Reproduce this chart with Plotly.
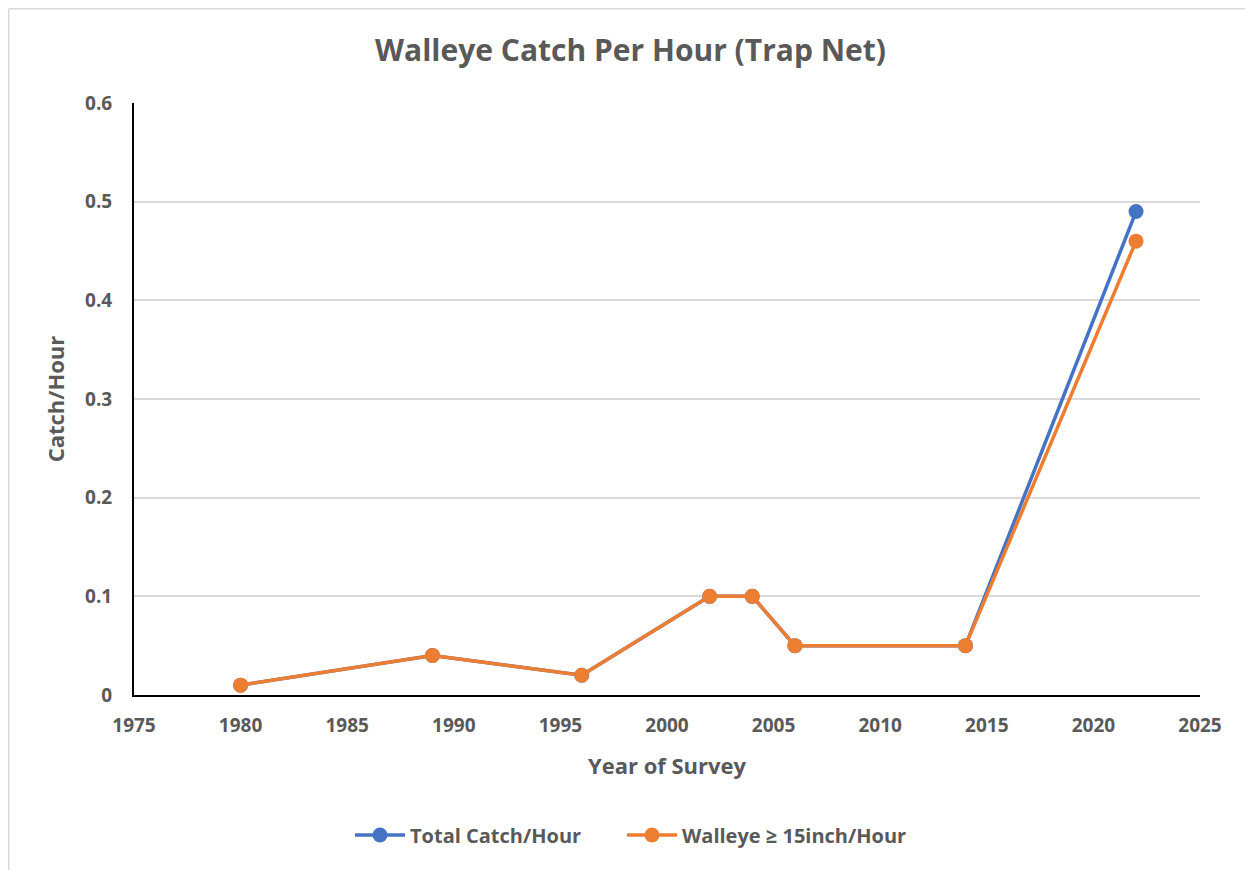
import plotly.graph_objects as go

years = [1980, 1989, 1996, 2002, 2004, 2006, 2014, 2022]
total_catch = [0.01, 0.04, 0.02, 0.10, 0.10, 0.05, 0.05, 0.49]
walleye_15 = [0.01, 0.04, 0.02, 0.10, 0.10, 0.05, 0.05, 0.46]
x_ticks = [1975, 1980, 1985, 1990, 1995, 2000, 2005, 2010, 2015, 2020, 2025]
y_ticks = [0, 0.1, 0.2, 0.3, 0.4, 0.5, 0.6]
y_tick_text = ["0", "0.1", "0.2", "0.3", "0.4", "0.5", "0.6"]

FONT = "Open Sans"
GREY = "#595959"

# page body has an 8px margin; figure is sized so the plot lands where the reference has it
W, H = 1245, 862
L, T = 126, 95
PW, PH = 1066, 592

fig = go.Figure()
fig.add_trace(go.Scatter(
    x=years, y=total_catch, mode="lines+markers", name="<b>Total Catch/Hour</b>",
    line=dict(color="#4472C4", width=3.5),
    marker=dict(color="#4472C4", size=15),
    legend="legend",
))
fig.add_trace(go.Scatter(
    x=years, y=walleye_15, mode="lines+markers", name="<b>Walleye ≥ 15inch/Hour</b>",
    line=dict(color="#ED7D31", width=3.5),
    marker=dict(color="#ED7D31", size=15),
    legend="legend2",
))

legend_y = -(827 - (T + PH)) / PH
fig.update_layout(
    width=W, height=H,
    margin=dict(l=L, r=W - L - PW, t=T, b=H - T - PH),
    paper_bgcolor="white", plot_bgcolor="white",
    font=dict(family=FONT, color=GREY),
    title=dict(text="<b>Walleye Catch Per Hour (Trap Net)</b>", x=0.5, xanchor="center",
               y=1 - 42 / H, yanchor="middle",
               font=dict(family=FONT, size=30, color=GREY)),
    xaxis=dict(
        range=[1975, 2025], tickvals=x_ticks, ticktext=["<b>%d</b>" % t for t in x_ticks],
        showgrid=False, zeroline=False,
        showline=True, linecolor="black", linewidth=2,
        ticks="", ticklabelstandoff=12, tickfont=dict(family=FONT, size=19, color=GREY),
        title=dict(text="<b>Year of Survey</b>", font=dict(family=FONT, size=22, color=GREY),
                   standoff=22),
    ),
    yaxis=dict(
        range=[0, 0.6], tickvals=y_ticks, ticktext=["<b>%s</b>" % t for t in y_tick_text],
        showgrid=True, gridcolor="#D9D9D9", gridwidth=1.5, zeroline=False,
        showline=True, linecolor="black", linewidth=2,
        ticks="", ticklabelstandoff=16, tickfont=dict(family=FONT, size=19, color=GREY),
        title=dict(text="<b>Catch/Hour</b>", font=dict(family=FONT, size=22, color=GREY),
                   standoff=14),
    ),
    legend=dict(orientation="h", x=(342 - L) / PW, xanchor="left",
                y=legend_y, yanchor="middle", itemwidth=50,
                font=dict(family=FONT, size=20, color=GREY)),
    legend2=dict(orientation="h", x=(614 - L) / PW, xanchor="left",
                 y=legend_y, yanchor="middle", itemwidth=50,
                 font=dict(family=FONT, size=20, color=GREY)),
    showlegend=True,
)

# light frame lines on the left and top edges, as in the reference
fig.add_shape(type="line", xref="paper", yref="paper",
              x0=(0.75 - L) / PW, x1=(0.75 - L) / PW,
              y0=(T + PH - H) / PH, y1=(T + PH - 0.75) / PH,
              line=dict(color="#D9D9D9", width=1.5), layer="below")
fig.add_shape(type="line", xref="paper", yref="paper",
              x0=(0.75 - L) / PW, x1=(W - L) / PW,
              y0=(T + PH - 0.75) / PH, y1=(T + PH - 0.75) / PH,
              line=dict(color="#D9D9D9", width=1.5), layer="below")

fig.write_html("out.html")
